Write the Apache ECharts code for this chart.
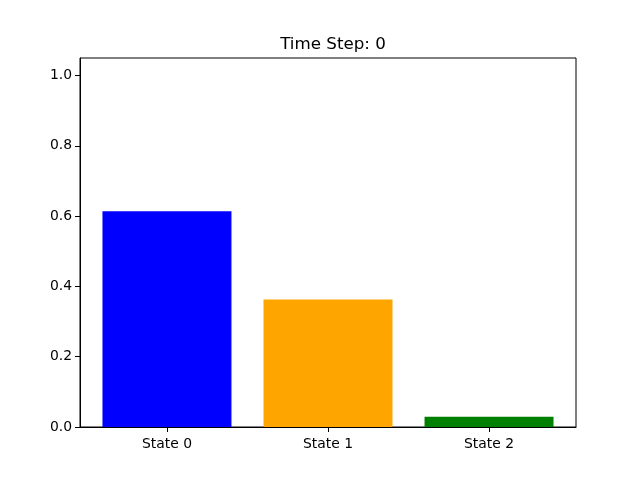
<!DOCTYPE html>
<html><head><meta charset="utf-8">
<script src="https://cdn.jsdelivr.net/npm/echarts@6/dist/echarts.min.js"></script>
<style>html,body{margin:0;padding:0;background:#fff}#c{width:640px;height:480px}</style>
</head><body><div id="c"></div>
<script>
const categories = ['State 0', 'State 1', 'State 2'];
const values = [0.614, 0.363, 0.029];
const colors = ['#0000ff', '#ffa500', '#008000'];
const yTicks = [0, 0.2, 0.4, 0.6, 0.8, 1.0];
const titleText = 'Time Step: 0';

const chart = echarts.init(document.getElementById('c'), null, {renderer: 'canvas'});
const font = 'DejaVu Sans';
chart.setOption({
  animation: false,
  title: {text: titleText, left: 328, top: 31, textAlign: 'center',
    textStyle: {fontFamily: font, fontSize: 16.7, fontWeight: 'normal', color: '#000'}},
  grid: {left: 80, right: 64, top: 58, bottom: 53, show: true, borderColor: '#000', borderWidth: 1, backgroundColor: 'transparent'},
  xAxis: {
    type: 'value', min: -0.54, max: 2.54,
    splitLine: {show: false},
    axisLine: {show: true, onZero: false, lineStyle: {color: '#000'}},
    axisTick: {show: true, length: 5, customValues: [0, 1, 2], lineStyle: {color: '#000'}},
    axisLabel: {customValues: [0, 1, 2], formatter: v => categories[Math.round(v)],
      fontFamily: font, fontSize: 13.9, color: '#000', margin: 10}
  },
  yAxis: {
    type: 'value', min: 0, max: 1.05,
    splitLine: {show: false},
    axisLine: {show: true, onZero: false, lineStyle: {color: '#000'}},
    axisTick: {show: true, length: 5, customValues: yTicks, lineStyle: {color: '#000'}},
    axisLabel: {customValues: yTicks, formatter: v => v.toFixed(1),
      fontFamily: font, fontSize: 13.9, color: '#000', margin: 8}
  },
  series: [{
    type: 'bar',
    barWidth: 129,
    data: values.map((v, i) => ({value: [i, v], itemStyle: {color: colors[i]}}))
  }]
});
</script></body></html>
